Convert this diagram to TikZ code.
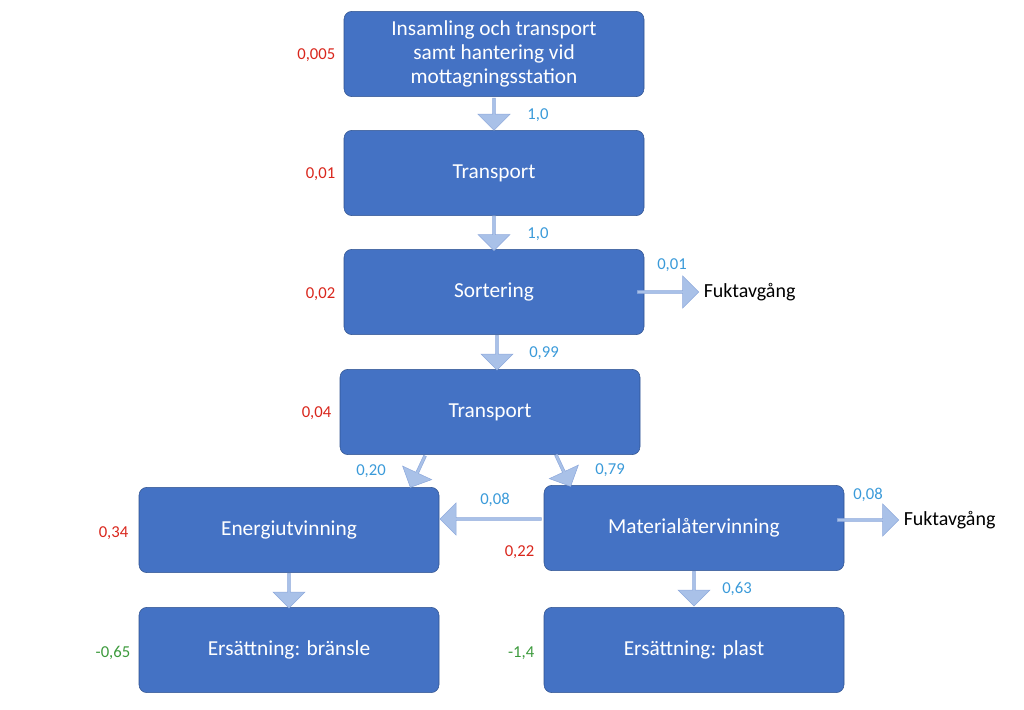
\documentclass[tikz,border=0pt]{standalone}
\usepackage{fontspec}
\setmainfont{Carlito}
\usetikzlibrary{shapes.arrows,calc}
\definecolor{boxblue}{HTML}{4472C4}
\definecolor{boxline}{HTML}{2F528F}
\definecolor{arrfill}{HTML}{A9C1E8}
\definecolor{arrline}{HTML}{8FAADC}
\definecolor{valred}{HTML}{D9261C}
\definecolor{valblue}{HTML}{3A9AD9}
\definecolor{valgreen}{HTML}{3C9A3C}
\tikzset{
  stage/.style={draw=boxline, fill=boxblue, rounded corners=6pt, text=white,
    minimum width=225pt, minimum height=64pt, align=center, font=\fontsize{16}{18}\selectfont, inner sep=0pt},
  flow/.style={single arrow, draw=arrline, fill=arrfill, minimum width=24pt,
    single arrow head extend=2pt, single arrow head indent=0pt, inner sep=0pt},
  val/.style={font=\fontsize{12.5}{14}\selectfont},
}
\begin{document}
\begin{tikzpicture}[x=0.75pt,y=-0.75pt]
\useasboundingbox (0,0) rectangle (1024,710);

% Boxes
\node[stage] (ins) at (494,54) {Insamling och transport\\samt hantering vid\\mottagningsstation};
\node[stage] (tr1) at (494,173) {Transport};
\node[stage] (sort) at (494,292) {Sortering};
\node[stage] (tr2) at (490,412) {Transport};
\node[stage] (energi) at (289,530) {Energiutvinning};
\node[stage] (mat) at (694,528) {Materialåtervinning};
\node[stage] (brans) at (289,650) {Ersättning: bränsle};
\node[stage] (plast) at (694,650) {Ersättning: plast};

% Block arrows
\node[flow, rotate=-90, minimum height=24pt] (a1) at ($(ins.south)!0.5!(tr1.north)$) {};
\node[flow, rotate=-90, minimum height=26pt] (a2) at ($(tr1.south)!0.5!(sort.north)$) {};
\node[flow, rotate=-90, minimum height=26pt] (a3) at (497,352) {};
\node[flow, rotate=-115, minimum height=26pt] (a4) at (418,471) {};
\node[flow, rotate=-65, minimum height=26pt] (a5) at (563,470) {};
\node[flow, rotate=180, minimum height=76pt] (a6) at ($(mat.west)!0.5!(energi.east)+(0,-10)$) {};
\node[flow, minimum height=46pt] (a7) at ($(sort.east)+(23,0)$) {};
\node[flow, minimum height=46pt] (a8) at ($(mat.east)+(23,-8)$) {};
\node[flow, rotate=-90, minimum height=26pt] (a9) at ($(energi.south)!0.5!(brans.north)$) {};
\node[flow, rotate=-90, minimum height=26pt] (a10) at ($(mat.south)!0.5!(plast.north)+(0,-1)$) {};

% Outputs
\node[anchor=west, font=\fontsize{15}{17}\selectfont] (fukt1) at (a7.tip) {Fuktavgång};
\node[anchor=west, font=\fontsize{15}{17}\selectfont] (fukt2) at (a8.tip) {Fuktavgång};

% Values
\node[val, text=valred, anchor=east] at (340,55) {0,005};
\node[val, text=valred, anchor=east] at (340,174) {0,01};
\node[val, text=valred, anchor=east] at (340,294) {0,02};
\node[val, text=valred, anchor=east] at (336,413) {0,04};
\node[val, text=valred, anchor=east] at (133,533) {0,34};
\node[val, text=valred, anchor=east] at (539,552) {0,22};
\node[val, text=valgreen, anchor=east] at (135,653) {-0,65};
\node[val, text=valgreen, anchor=east] at (539,653) {-1,4};
\node[val, text=valblue] at (538,115) {1,0};
\node[val, text=valblue] at (538,234) {1,0};
\node[val, text=valblue] at (544,353) {0,99};
\node[val, text=valblue] at (672,265) {0,01};
\node[val, text=valblue] at (371,471) {0,20};
\node[val, text=valblue] at (610,470) {0,79};
\node[val, text=valblue] at (495,500) {0,08};
\node[val, text=valblue] at (868,495) {0,08};
\node[val, text=valblue] at (737,589) {0,63};
\end{tikzpicture}
\end{document}
